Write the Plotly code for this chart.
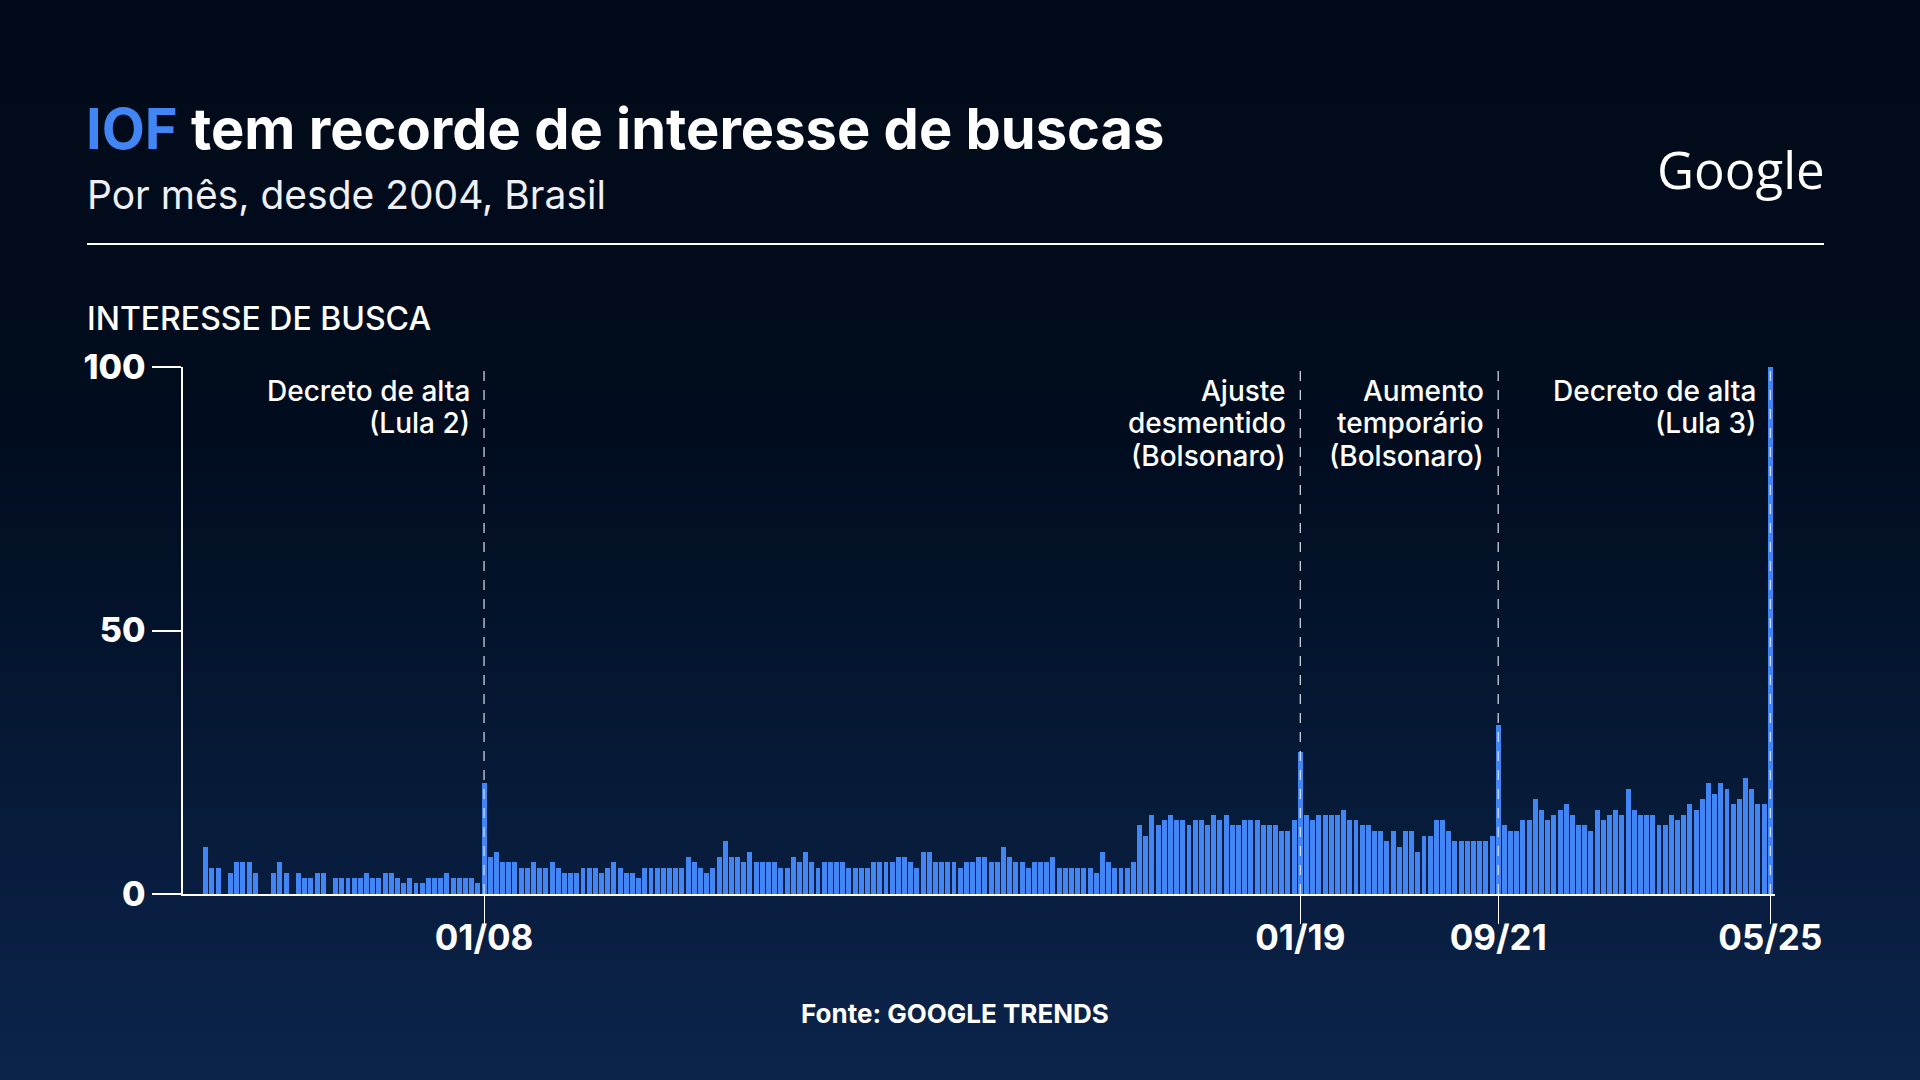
import plotly.graph_objects as go
import pandas as pd

# ---------------- data ----------------
months = pd.date_range("2004-01-01", "2025-05-01", freq="MS")
month_labels = [d.strftime("%m/%y") for d in months]

interest = [
    0, 0, 0,
    9, 5, 5, 0, 4, 6, 6, 6, 4, 0, 0, 4, 6, 4, 0, 4, 3, 3, 4, 4, 0, 3, 3, 3, 3, 3, 4, 3, 3, 4, 4, 3,
    2, 3, 2, 2, 3, 3, 3, 4, 3, 3, 3, 3, 2, 21, 7, 8, 6, 6, 6, 5, 5, 6, 5, 5, 6, 5, 4, 4, 4, 5, 5, 5,
    4, 5, 6, 5, 4, 4, 3, 5, 5, 5, 5, 5, 5, 5, 7, 6, 5, 4, 5, 7, 10, 7, 7, 6, 8, 6, 6, 6, 6, 5, 5, 7,
    6, 8, 6, 5, 6, 6, 6, 6, 5, 5, 5, 5, 6, 6, 6, 6, 7, 7, 6, 5, 8, 8, 6, 6, 6, 6, 5, 6, 6, 7, 7, 6,
    6, 9, 7, 6, 6, 5, 6, 6, 6, 7, 5, 5, 5, 5, 5, 5, 4, 8, 6, 5, 5, 5, 6, 13, 11, 15, 13, 14, 15, 14, 14, 13,
    14, 14, 13, 15, 14, 15, 13, 13, 14, 14, 14, 13, 13, 13, 12, 12, 14, 27, 15, 14, 15, 15, 15, 15, 16, 14, 14, 13, 13, 12, 12, 10,
    12, 9, 12, 12, 8, 11, 11, 14, 14, 12, 10, 10, 10, 10, 10, 10, 11, 32, 13, 12, 12, 14, 14, 18, 16, 14, 15, 16, 17, 15, 13, 13,
    12, 16, 14, 15, 16, 15, 20, 16, 15, 15, 15, 13, 13, 15, 14, 15, 17, 16, 18, 21, 19, 21, 20, 17, 18, 22, 20, 17, 17, 100,
]

tick_labels = ["01/08", "01/19", "09/21", "05/25"]
y_ticks = [0, 50, 100]

event_months = ["01/08", "01/19", "09/21", "05/25"]
event_lines = [
    ["Decreto de alta", "(Lula 2)"],
    ["Ajuste", "desmentido", "(Bolsonaro)"],
    ["Aumento", "temporário", "(Bolsonaro)"],
    ["Decreto de alta", "(Lula 3)"],
]

title_html = "<b><span style='color:#4285F4'>IOF</span> tem recorde de interesse de buscas</b>"
subtitle = "Por mês, desde 2004, Brasil"
axis_title = "INTERESSE DE BUSCA"
source = "<b>Fonte: GOOGLE TRENDS</b>"

# ---------------- layout geometry ----------------
W, H = 1920, 1080
L, R, T, B = 183, 145, 367, 186
PW, PH = W - L - R, H - T - B
FONT = "Inter"


def px(x):
    return (x - L) / PW


def py(y):
    return (H - B - y) / PH


x_idx = list(range(len(month_labels)))

fig = go.Figure()
fig.add_trace(go.Bar(
    x=x_idx, y=interest, width=0.8,
    marker=dict(color="#4285F4", line=dict(width=0)),
    hoverinfo="skip",
))


def bg_color(y):
    stops = [(0, (1, 10, 24)), (430, (1, 12, 30)), (760, (6, 25, 54)), (1080, (12, 36, 76))]
    for (y0, c0), (y1, c1) in zip(stops[:-1], stops[1:]):
        if y0 <= y <= y1:
            t = (y - y0) / (y1 - y0)
            return "rgb(%d,%d,%d)" % tuple(round(a + (b - a) * t) for a, b in zip(c0, c1))
    return "rgb(12,36,76)"


shapes = []
step = 8
for yy in range(0, H, step):
    shapes.append(dict(
        type="rect", xref="paper", yref="paper", layer="below",
        x0=px(-5), x1=px(W + 5), y0=py(yy + step + 0.6), y1=py(yy),
        fillcolor=bg_color(yy + step / 2), line=dict(width=0),
    ))

shapes.append(dict(type="line", xref="paper", yref="paper", x0=px(87), x1=px(1824),
                   y0=py(244), y1=py(244), line=dict(color="white", width=2)))

for m in event_months:
    xi = month_labels.index(m)
    shapes.append(dict(type="line", xref="x", yref="y", x0=xi, x1=xi, y0=0, y1=100,
                       line=dict(color="rgba(225,228,235,0.9)", width=1.3, dash="10px,9px"),
                       layer="above"))

annotations = []
annotations.append(dict(text=title_html, xref="paper", yref="paper", x=px(84), y=py(129),
                        xanchor="left", yanchor="middle", showarrow=False,
                        font=dict(family=FONT, size=56, color="white")))
annotations.append(dict(text=subtitle, xref="paper", yref="paper", x=px(85), y=py(195),
                        xanchor="left", yanchor="middle", showarrow=False,
                        font=dict(family=FONT, size=39, color="#eef0f5", weight=400)))
annotations.append(dict(text="Google", xref="paper", yref="paper", x=px(1827), y=py(169),
                        xanchor="right", yanchor="middle", showarrow=False,
                        font=dict(family="Open Sans", size=51, color="white")))
annotations.append(dict(text=axis_title, xref="paper", yref="paper", x=px(85), y=py(318),
                        xanchor="left", yanchor="middle", showarrow=False,
                        font=dict(family=FONT, size=32, color="white", weight=500)))
annotations.append(dict(text=source, xref="paper", yref="paper", x=px(955), y=py(1013),
                        xanchor="center", yanchor="middle", showarrow=False,
                        font=dict(family=FONT, size=26, color="white")))

for m, lines in zip(event_months, event_lines):
    xi = month_labels.index(m)
    for i, line in enumerate(lines):
        annotations.append(dict(text=line, xref="x", yref="paper", x=xi, y=py(390.6 + 32.5 * i),
                                xanchor="right", yanchor="middle", xshift=-12, align="right",
                                showarrow=False,
                                font=dict(family=FONT, size=28, color="white", weight=500)))

fig.update_layout(
    width=W, height=H, autosize=False,
    margin=dict(l=L, r=R, t=T, b=B, pad=0),
    paper_bgcolor="rgb(1,10,24)", plot_bgcolor="rgba(0,0,0,0)",
    showlegend=False, bargap=0,
    shapes=shapes, annotations=annotations,
    xaxis=dict(
        range=[-0.68, 256.76], tickmode="array",
        tickvals=[month_labels.index(t) for t in tick_labels], ticktext=tick_labels,
        ticks="outside", ticklen=28, tickwidth=1, tickcolor="white",
        showline=True, linecolor="white", linewidth=2,
        showgrid=False, zeroline=False, fixedrange=True,
        ticklabelstandoff=-16,
        tickfont=dict(family=FONT, size=35, color="white", weight=700),
    ),
    yaxis=dict(
        range=[0, 100], tickmode="array", tickvals=y_ticks,
        ticks="outside", ticklen=29, tickwidth=1.5, tickcolor="white",
        showline=True, linecolor="white", linewidth=1.5,
        showgrid=False, zeroline=False, fixedrange=True,
        tickfont=dict(family=FONT, size=34, color="white", weight=800),
    ),
)

fig.write_html("out.html", config={"displayModeBar": False})
